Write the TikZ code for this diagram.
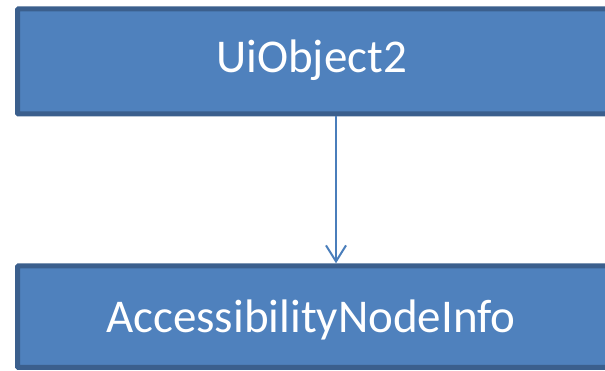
\documentclass[tikz,border=0pt]{standalone}
\usepackage{fontspec}
\setmainfont{Carlito}
\usetikzlibrary{arrows.meta}
\definecolor{boxfill}{HTML}{4F81BD}
\definecolor{boxline}{HTML}{3B5F8D}
\definecolor{arrowcol}{HTML}{4A7EBB}
\begin{document}
\begin{tikzpicture}[x=1pt,y=1pt,
  classbox/.style={draw=boxline, fill=boxfill, line width=5pt, rounded corners=1pt,
    inner sep=0pt, text=white, font=\fontsize{47}{54}\selectfont},
  link/.style={draw=arrowcol, line width=2pt, -{Straight Barb[length=16pt,width=20pt,line width=2pt]}}]
\useasboundingbox (0,0) rectangle (605,371);
\node[classbox, minimum width=590.5pt, minimum height=105pt] (top) at (312.75,309.5) {};
\node[classbox, minimum width=590.5pt, minimum height=101.7pt] (bot) at (312.75,54.35) {};
\node[text=white, font=\fontsize{47}{54}\selectfont, anchor=base] (toplabel) at (311.5,298) {UiObject2};
\node[text=white, font=\fontsize{47}{54}\selectfont, anchor=base] (botlabel) at (311,38) {AccessibilityNodeInfo};
\draw[link] ([xshift=23.25pt]top.south) -- ([xshift=23.25pt]bot.north);
\end{tikzpicture}
\end{document}
